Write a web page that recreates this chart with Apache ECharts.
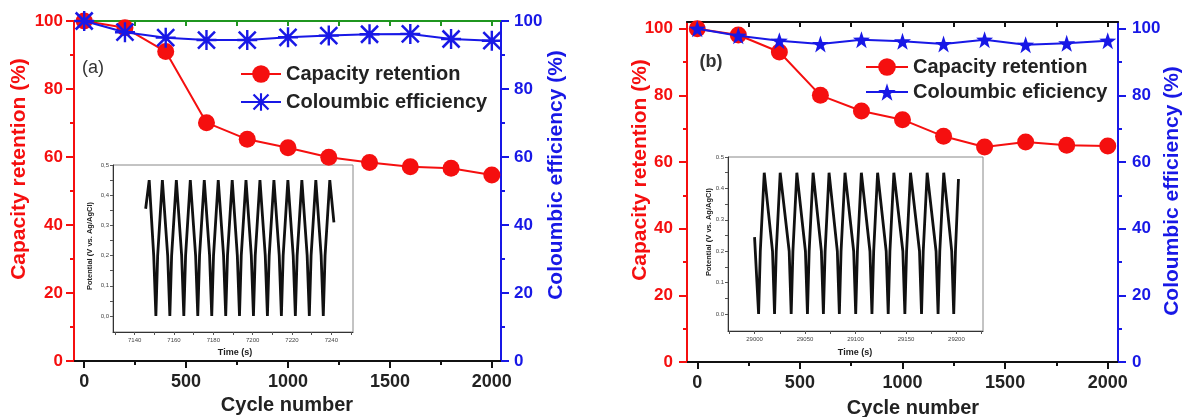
<!DOCTYPE html>
<html><head><meta charset="utf-8">
<script src="https://cdn.jsdelivr.net/npm/echarts@6/dist/echarts.min.js"></script>
<style>html,body{margin:0;padding:0;background:#fff}#c{width:1182px;height:417px}</style>
</head><body><div id="c"></div>
<script>
// ---------- data ----------
const cycles = [0, 200, 400, 600, 800, 1000, 1200, 1400, 1600, 1800, 2000];
const capacityA = [100, 98, 91, 70.1, 65.2, 62.7, 59.9, 58.4, 57.1, 56.7, 54.7];
const coulombA  = [100, 96.7, 95.1, 94.4, 94.4, 95.2, 95.7, 96.1, 96.2, 94.7, 94.2];
const capacityB = [100, 98.1, 93.0, 80.0, 75.3, 72.7, 67.7, 64.5, 66.0, 65.0, 64.8];
const coulombB  = [100, 97.9, 96.4, 95.4, 96.7, 96.2, 95.4, 96.7, 95.2, 95.6, 96.4];

const cycleTicks = [0, 500, 1000, 1500, 2000];
const cycleMinorTicks = [250, 750, 1250, 1750];
const frameTicks = [0, 250, 500, 750, 1000, 1250, 1500, 1750, 2000];
const pctTicks = [0, 20, 40, 60, 80, 100];
const pctMinorTicks = [10, 30, 50, 70, 90];

// inset (a): galvanostatic charge/discharge, time (s) vs potential (V)
const gcdA = [
 [7145.6,0.355],[7147.4,0.45],[7149.7,0.2],[7150.8,0],[7151.7,0.2],[7154.1,0.45],
 [7156.8,0.2],[7157.9,0],[7158.8,0.2],[7161.2,0.45],
 [7163.9,0.2],[7165.0,0],[7165.9,0.2],[7168.3,0.45],
 [7171.0,0.2],[7172.1,0],[7173.0,0.2],[7175.4,0.45],
 [7178.1,0.2],[7179.2,0],[7180.1,0.2],[7182.5,0.45],
 [7185.2,0.2],[7186.3,0],[7187.2,0.2],[7189.6,0.45],
 [7192.2,0.2],[7193.3,0],[7194.2,0.2],[7196.6,0.45],
 [7199.3,0.2],[7200.4,0],[7201.3,0.2],[7203.7,0.45],
 [7206.4,0.2],[7207.5,0],[7208.4,0.2],[7210.8,0.45],
 [7213.5,0.2],[7214.6,0],[7215.5,0.2],[7217.9,0.45],
 [7220.6,0.2],[7221.7,0],[7222.6,0.2],[7225.0,0.45],
 [7227.7,0.2],[7228.8,0],[7229.7,0.2],[7232.1,0.45],
 [7234.8,0.2],[7235.9,0],[7236.8,0.2],[7239.2,0.45],
 [7241.3,0.31]
];
// inset (b)
const gcdB = [
 [29000.0,0.245],[29004.0,0],[29005.7,0.2],[29009.6,0.45],
 [29017.8,0.2],[29019.8,0],[29021.5,0.2],[29025.4,0.45],
 [29034.3,0.2],[29036.3,0],[29038.0,0.2],[29041.9,0.45],
 [29050.4,0.2],[29052.4,0],[29054.1,0.2],[29058.0,0.45],
 [29066.2,0.2],[29068.2,0],[29069.9,0.2],[29073.8,0.45],
 [29082.0,0.2],[29084.0,0],[29085.7,0.2],[29089.6,0.45],
 [29098.2,0.2],[29100.2,0],[29101.9,0.2],[29105.8,0.45],
 [29114.3,0.2],[29116.3,0],[29118.0,0.2],[29121.9,0.45],
 [29130.4,0.2],[29132.4,0],[29134.1,0.2],[29138.0,0.45],
 [29146.9,0.2],[29148.9,0],[29150.6,0.2],[29154.5,0.45],
 [29163.4,0.2],[29165.4,0],[29167.1,0.2],[29171.0,0.45],
 [29179.8,0.2],[29181.8,0],[29183.5,0.2],[29187.4,0.45],
 [29195.3,0.2],[29197.3,0],[29199.0,0.2],[29202.0,0.43]
];
const timeTicksA = [7140, 7160, 7180, 7200, 7220, 7240];
const timeSubTicksA = [7130, 7140, 7150, 7160, 7170, 7180, 7190, 7200, 7210, 7220, 7230, 7240, 7250];
const timeTicksB = [29000, 29050, 29100, 29150, 29200];
const timeSubTicksB = [28975, 29000, 29025, 29050, 29075, 29100, 29125, 29150, 29175, 29200, 29225];
const potTicks = [0, 0.1, 0.2, 0.3, 0.4, 0.5];
const potSubTicks = [0, 0.05, 0.1, 0.15, 0.2, 0.25, 0.3, 0.35, 0.4, 0.45, 0.5];

// ---------- style ----------
const FF = '"Liberation Sans", Arial, sans-serif';
const RED = '#f50f0f', BLUE = '#1818e6', GREEN = '#1f961f', DARK = '#222';
const ASTERISK = 'path://M0,44L100,44L100,56L0,56Z M44,0L56,0L56,100L44,100Z M12,3L97,88L88,97L3,12Z M88,3L97,12L12,97L3,88Z';
const STAR = 'path://M50,0L61.8,35.1L98.5,35.3L69,57.3L79.9,92.4L50,71.1L20.1,92.4L31,57.3L1.5,35.3L38.2,35.1Z';
const plain = v => String(v);

const pairs = (xs, ys) => xs.map((x, i) => [x, ys[i]]);

const gridA = {left: 74, top: 21, width: 427, height: 340};
const gridB = {left: 687, top: 22, width: 431, height: 340};

function mainX(grid) {
  return {type: 'value', gridIndex: grid, position: 'bottom', min: -50, max: grid === 0 ? 2045 : 2050,
    axisLine: {show: true, onZero: false, lineStyle: {color: '#111', width: 2}},
    axisTick: {show: true, customValues: cycleTicks, length: 7, lineStyle: {color: '#111', width: 2}},
    axisLabel: {customValues: cycleTicks, formatter: plain, margin: 12, fontSize: 18, fontWeight: 'bold', color: DARK, fontFamily: FF},
    splitLine: {show: false}};
}
function topX(grid, color) {
  return {type: 'value', gridIndex: grid, position: 'top', min: -50, max: grid === 0 ? 2045 : 2050,
    axisLine: {show: true, onZero: false, lineStyle: {color: color, width: 2}},
    axisTick: {show: true, inside: true, customValues: frameTicks, length: 5, lineStyle: {color: color, width: 2}},
    axisLabel: {show: false}, splitLine: {show: false}};
}
function minorX(grid, maxv) {
  return {type: 'value', gridIndex: grid, position: 'bottom', min: -50, max: maxv,
    axisLine: {show: false, onZero: false},
    axisTick: {show: true, customValues: cycleMinorTicks, length: 4, lineStyle: {color: '#111', width: 2}},
    axisLabel: {show: false}, splitLine: {show: false}};
}
function mainY(grid, pos, color, maxv, margin) {
  return {type: 'value', gridIndex: grid, position: pos, min: 0, max: maxv,
    axisLine: {show: true, onZero: false, lineStyle: {color: color, width: 2}},
    axisTick: {show: true, customValues: pctTicks, length: 8, lineStyle: {color: color, width: 2}},
    axisLabel: {customValues: pctTicks, formatter: plain, margin: margin, fontSize: 17, fontWeight: 'bold', color: color, fontFamily: FF},
    splitLine: {show: false}};
}
function minorY(grid, pos, color, maxv) {
  return {type: 'value', gridIndex: grid, position: pos, min: 0, max: maxv,
    axisLine: {show: false, onZero: false},
    axisTick: {show: true, customValues: pctMinorTicks, length: 4, lineStyle: {color: color, width: 2}},
    axisLabel: {show: false}, splitLine: {show: false}};
}
function insetX(grid, minv, maxv, labels, ticks) {
  return {type: 'value', gridIndex: grid, position: 'bottom', min: minv, max: maxv,
    axisLine: {show: true, onZero: false, lineStyle: {color: '#333', width: 1}},
    axisTick: {show: true, customValues: ticks, length: 3, lineStyle: {color: '#555', width: 1}},
    axisLabel: {customValues: labels, formatter: plain, margin: 5, fontSize: 6, color: '#444', fontFamily: FF},
    splitLine: {show: false}};
}
function insetY(grid, minv, comma) {
  return {type: 'value', gridIndex: grid, position: 'left', min: minv, max: 0.5,
    axisLine: {show: true, onZero: false, lineStyle: {color: '#333', width: 1}},
    axisTick: {show: true, customValues: potSubTicks, length: 3, lineStyle: {color: '#555', width: 1}},
    axisLabel: {customValues: potTicks, margin: 4, fontSize: 6, color: '#444', fontFamily: FF,
      formatter: v => { const s = Number(v).toFixed(1); return comma ? s.replace('.', ',') : s; }},
    splitLine: {show: false}};
}

function title(text, x, y, color, size, rotate, weight) {
  return {type: 'text', x: x, y: y, rotation: rotate ? Math.PI / 2 : 0, silent: true,
    style: {text: text, fill: color, font: (weight || 'bold') + ' ' + size + 'px ' + FF,
      align: 'center', verticalAlign: 'middle', textAlign: 'center', textVerticalAlign: 'middle'}};
}

const option = {
  animation: false,
  backgroundColor: '#fff',
  grid: [
    Object.assign({}, gridA),
    Object.assign({}, gridB),
    {left: 113, top: 165, width: 240, height: 167, show: true, backgroundColor: '#fff', borderColor: '#888', borderWidth: 1},
    {left: 728, top: 157, width: 255, height: 174, show: true, backgroundColor: '#fff', borderColor: '#888', borderWidth: 1},
    Object.assign({}, gridA),
    Object.assign({}, gridB)
  ],
  xAxis: [
    mainX(0), topX(0, GREEN), mainX(1), topX(1, '#111'),
    insetX(2, 7129, 7251, timeTicksA, timeSubTicksA),
    insetX(3, 28973.7, 29226.3, timeTicksB, timeSubTicksB),
    minorX(4, 2045), minorX(5, 2050)
  ],
  yAxis: [
    mainY(0, 'left', RED, 100, 11), mainY(0, 'right', BLUE, 100, 13),
    mainY(1, 'left', RED, 102, 14), mainY(1, 'right', BLUE, 102, 14),
    insetY(2, -0.053, true), insetY(3, -0.054, false),
    minorY(4, 'left', RED, 100), minorY(4, 'right', BLUE, 100),
    minorY(5, 'left', RED, 102), minorY(5, 'right', BLUE, 102)
  ],
  legend: [
    {data: ['Capacity retention', 'Coloumbic efficiency'], left: 235, top: 59, orient: 'vertical',
     itemWidth: 40, itemHeight: 22, itemGap: 8, selectedMode: false,
     textStyle: {fontSize: 20, fontWeight: 'bold', color: DARK, fontFamily: FF, lineHeight: 20}},
    {data: ['Capacity retention', 'Coloumbic eficiency'], left: 860, top: 52, orient: 'vertical',
     itemWidth: 42, itemHeight: 22, itemGap: 5, selectedMode: false,
     textStyle: {fontSize: 20, fontWeight: 'bold', color: DARK, fontFamily: FF, lineHeight: 20}}
  ],
  series: [
    {name: 'Capacity retention', type: 'line', xAxisIndex: 0, yAxisIndex: 0, data: pairs(cycles, capacityA),
     symbol: 'circle', symbolSize: 17, lineStyle: {color: RED, width: 2}, itemStyle: {color: RED}, z: 3},
    {name: 'Coloumbic efficiency', type: 'line', xAxisIndex: 0, yAxisIndex: 1, data: pairs(cycles, coulombA),
     symbol: ASTERISK, symbolSize: 20, lineStyle: {color: BLUE, width: 2}, itemStyle: {color: BLUE}, z: 4},
    {name: 'Capacity retention', type: 'line', xAxisIndex: 2, yAxisIndex: 2, data: pairs(cycles, capacityB),
     symbol: 'circle', symbolSize: 17, lineStyle: {color: RED, width: 2}, itemStyle: {color: RED}, z: 3},
    {name: 'Coloumbic eficiency', type: 'line', xAxisIndex: 2, yAxisIndex: 3, data: pairs(cycles, coulombB),
     symbol: STAR, symbolSize: 17, lineStyle: {color: BLUE, width: 2}, itemStyle: {color: BLUE}, z: 4},
    {name: 'GCD a', type: 'line', xAxisIndex: 4, yAxisIndex: 4, data: gcdA, showSymbol: false, symbol: 'none',
     lineStyle: {color: '#111', width: 2.8}, z: 5},
    {name: 'GCD b', type: 'line', xAxisIndex: 5, yAxisIndex: 5, data: gcdB, showSymbol: false, symbol: 'none',
     lineStyle: {color: '#111', width: 2.8}, z: 5}
  ],
  graphic: [
    title('Capacity retention (%)', 19, 169, RED, 21, true),
    title('Coloumbic efficiency (%)', 556, 175, BLUE, 21, true),
    title('Capacity retention (%)', 640, 170, RED, 21, true),
    title('Coloumbic efficiency (%)', 1172, 191, BLUE, 21, true),
    title('Cycle number', 287, 405, DARK, 20),
    title('Cycle number', 913, 408, DARK, 20),
    title('(a)', 93, 68, '#333', 18, false, 'normal'),
    title('(b)', 711, 62, '#333', 18, false, 'bold'),
    title('Potential (V vs. Ag/AgCl)', 90, 246, '#222', 7.5, true),
    title('Time (s)', 235, 353, '#222', 9),
    title('Potential (V vs. Ag/AgCl)', 709, 232, '#222', 7.5, true),
    title('Time (s)', 855, 353, '#222', 9)
  ]
};
const chart = echarts.init(document.getElementById('c'), null, {renderer: 'canvas'});
chart.setOption(option);
</script></body></html>
